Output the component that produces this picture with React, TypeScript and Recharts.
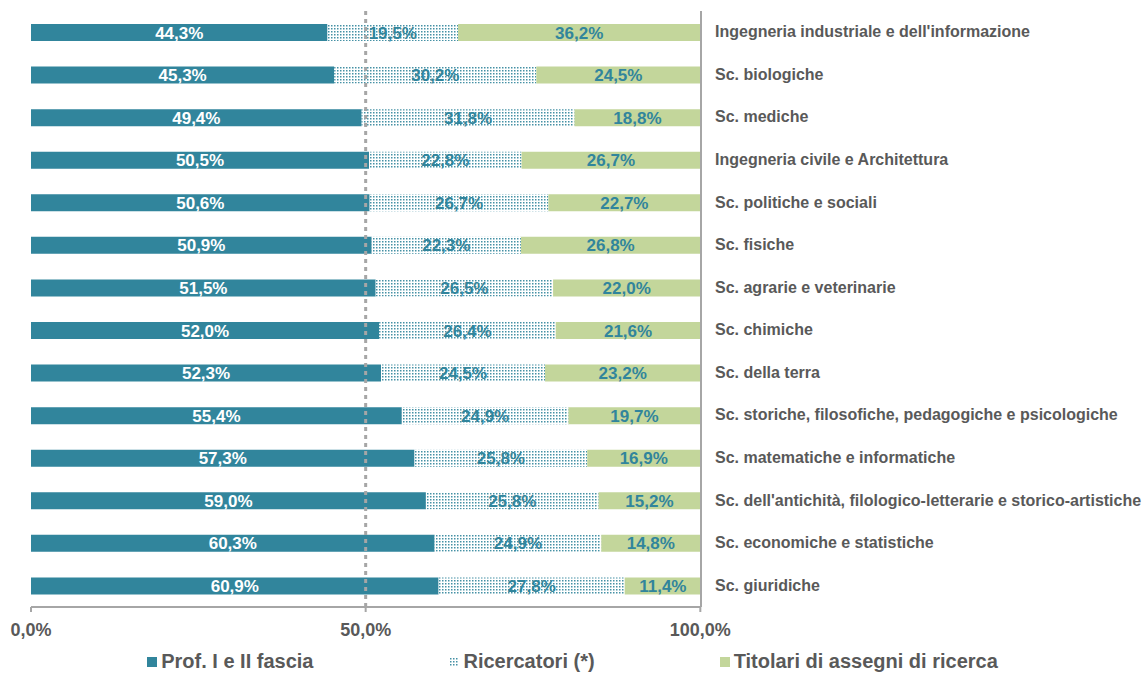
import { Bar, BarChart, LabelList, Legend, ReferenceLine, XAxis, YAxis } from "recharts"

const categories = [
  "Ingegneria industriale e dell'informazione",
  "Sc. biologiche",
  "Sc. mediche",
  "Ingegneria civile e Architettura",
  "Sc. politiche e sociali",
  "Sc. fisiche",
  "Sc. agrarie e veterinarie",
  "Sc. chimiche",
  "Sc. della terra",
  "Sc. storiche, filosofiche, pedagogiche e psicologiche",
  "Sc. matematiche e informatiche",
  "Sc. dell'antichità, filologico-letterarie e storico-artistiche",
  "Sc. economiche e statistiche",
  "Sc. giuridiche",
]
const prof = [44.3, 45.3, 49.4, 50.5, 50.6, 50.9, 51.5, 52.0, 52.3, 55.4, 57.3, 59.0, 60.3, 60.9]
const ricercatori = [19.5, 30.2, 31.8, 22.8, 26.7, 22.3, 26.5, 26.4, 24.5, 24.9, 25.8, 25.8, 24.9, 27.8]
const titolari = [36.2, 24.5, 18.8, 26.7, 22.7, 26.8, 22.0, 21.6, 23.2, 19.7, 16.9, 15.2, 14.8, 11.4]
const xTicks = [0, 50, 100]

const data = categories.map((name, i) => ({
  name,
  prof: prof[i],
  ricercatori: ricercatori[i],
  titolari: titolari[i],
}))

const TEAL = "#31859C"
const GREEN = "#C3D69B"
const GRAY = "#595959"
const AXIS = "#A6A6A6"
const FONT = "'Liberation Sans', Arial, sans-serif"

const pct = (v: any) => Number(v).toFixed(1).replace(".", ",") + "%"

const legendItems = [
  { label: "Prof. I e II fascia", fill: TEAL, gap: 136 },
  { label: "Ricercatori (*)", fill: "url(#dots)", gap: 125 },
  { label: "Titolari di assegni di ricerca", fill: GREEN, gap: 0 },
]

function LegendBox() {
  return (
    <div style={{ display: "flex", justifyContent: "center", fontFamily: FONT, paddingTop: 6 }}>
      {legendItems.map((it) => (
        <div key={it.label} style={{ display: "flex", alignItems: "center", gap: 4, marginRight: it.gap }}>
          <svg width={10} height={10}>
            <rect width={10} height={10} fill={it.fill} />
          </svg>
          <span style={{ fontSize: 20, fontWeight: "bold", color: GRAY }}>{it.label}</span>
        </div>
      ))}
    </div>
  )
}

function CategoryTick(props: any) {
  const { x, y, payload } = props
  return (
    <text x={x + 6} y={y} dy={5} textAnchor="start" fontSize={16} fontWeight="bold" fill={GRAY} fontFamily={FONT}>
      {payload.value}
    </text>
  )
}

export default function App() {
  return (
    <div style={{ position: "absolute", left: 0, top: 0, background: "#fff" }}>
      <BarChart
        width={1145}
        height={674}
        data={data}
        layout="vertical"
        barSize={17}
        margin={{ top: 11, right: 10, bottom: 0, left: 31 }}
      >
        <defs>
          <pattern id="dots" width={3} height={3} patternUnits="userSpaceOnUse">
            <rect width={3} height={3} fill="#fff" />
            <rect x={1} y={1} width={1.5} height={1.5} fill={TEAL} opacity={0.9} />
          </pattern>
        </defs>
        <XAxis
          type="number"
          domain={[0, 100]}
          ticks={xTicks}
          tickFormatter={pct}
          stroke={AXIS}
          strokeWidth={2}
          tickSize={5}
          tickMargin={11}
          tick={{ fill: GRAY, fontSize: 18, fontWeight: "bold", fontFamily: FONT }}
          height={37}
        />
        <YAxis
          type="category"
          dataKey="name"
          orientation="right"
          width={434}
          stroke={AXIS}
          strokeWidth={2}
          tickLine={false}
          tick={<CategoryTick />}
          interval={0}
        />
        <Legend
          verticalAlign="bottom"
          height={30}
          wrapperStyle={{ left: 0, width: 1145 }}
          content={<LegendBox />}
        />
        <Bar dataKey="prof" stackId="a" fill={TEAL} isAnimationActive={false}>
          <LabelList
            dataKey="prof"
            position="center"
            formatter={pct}
            fill="#fff"
            fontSize={17}
            fontWeight="bold"
            fontFamily={FONT}
          />
        </Bar>
        <Bar dataKey="ricercatori" stackId="a" fill="url(#dots)" isAnimationActive={false}>
          <LabelList
            dataKey="ricercatori"
            position="center"
            formatter={pct}
            fill={TEAL}
            fontSize={17}
            fontWeight="bold"
            fontFamily={FONT}
          />
        </Bar>
        <Bar dataKey="titolari" stackId="a" fill={GREEN} isAnimationActive={false}>
          <LabelList
            dataKey="titolari"
            position="center"
            formatter={pct}
            fill={TEAL}
            fontSize={17}
            fontWeight="bold"
            fontFamily={FONT}
          />
        </Bar>
        <ReferenceLine x={50} stroke={AXIS} strokeWidth={3} strokeDasharray="4 4" />
      </BarChart>
    </div>
  )
}
